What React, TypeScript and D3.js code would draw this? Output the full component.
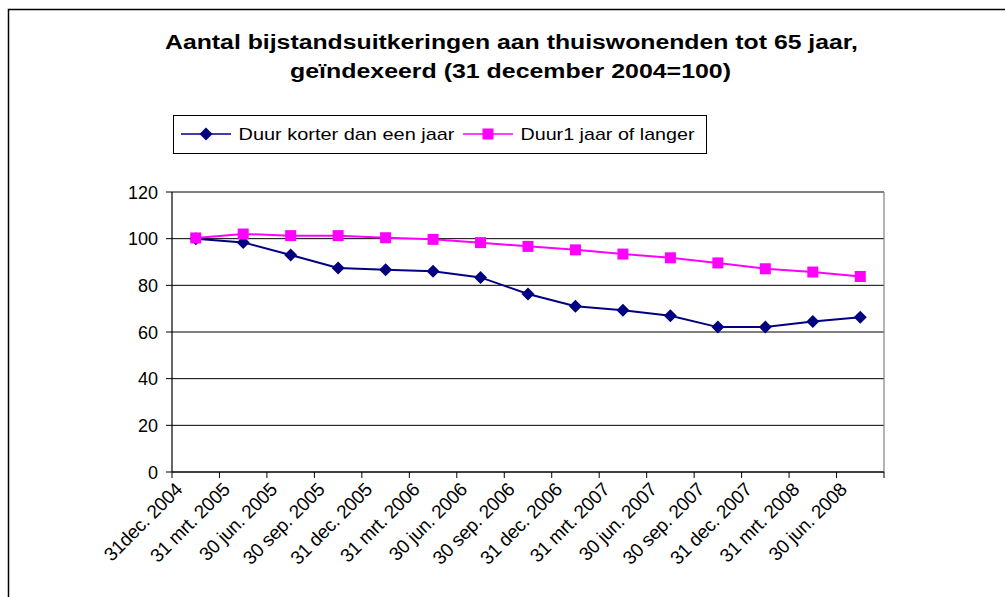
import React from "react";
import * as d3 from "d3";

const categories = [
  "31dec. 2004",
  "31 mrt. 2005",
  "30 jun. 2005",
  "30 sep. 2005",
  "31 dec. 2005",
  "31 mrt. 2006",
  "30 jun. 2006",
  "30 sep. 2006",
  "31 dec. 2006",
  "31 mrt. 2007",
  "30 jun. 2007",
  "30 sep. 2007",
  "31 dec. 2007",
  "31 mrt. 2008",
  "30 jun. 2008",
];
const korter = [100, 98.4, 93, 87.4, 86.7, 86, 83.4, 76.3, 71, 69.3, 67, 62.1, 62.1, 64.5, 66.3];
const langer = [100.3, 102, 101.3, 101.3, 100.4, 99.7, 98.3, 96.7, 95.2, 93.4, 91.8, 89.6, 87.1, 85.7, 83.8];
const yTicks = [0, 20, 40, 60, 80, 100, 120];

const series = [
  { name: "Duur korter dan een jaar", values: korter, color: "#000080", marker: "diamond" },
  { name: "Duur1 jaar of langer", values: langer, color: "#FF00FF", marker: "square" },
];

const width = 1005;
const height = 597;
const plot = { left: 172, right: 884, top: 192, bottom: 472 };
const font = "'Liberation Sans', Arial, sans-serif";

function Marker({ kind, x, y, color }: { kind: string; x: number; y: number; color: string }) {
  if (kind === "square") {
    return <rect x={x - 5.5} y={y - 5.5} width={11} height={11} fill={color} />;
  }
  const r = 6.5;
  return <path d={`M${x},${y - r}L${x + r},${y}L${x},${y + r}L${x - r},${y}Z`} fill={color} />;
}

export default function App() {
  const x = d3.scaleBand<string>().domain(categories).range([plot.left, plot.right]);
  const y = d3.scaleLinear().domain([0, 120]).range([plot.bottom, plot.top]);
  const cx = (c: string) => (x(c) as number) + x.bandwidth() / 2;
  const line = d3
    .line<number>()
    .x((_, i) => cx(categories[i]))
    .y((d) => y(d));

  const tickXs = [...categories.map((c) => x(c) as number), plot.right];
  // legend slots: line start, text start, text width
  const legendSlots = [
    { lx: 181, tx: 238.5, tw: 216 },
    { lx: 463, tx: 520.5, tw: 174 },
  ];

  return (
    <svg
      width={width}
      height={height}
      style={{ position: "absolute", left: 0, top: 0, background: "#fff", fontFamily: font }}
    >
      {/* outer frame */}
      <path d={`M8.5,${height}V9.5H${width}`} fill="none" stroke="#000" strokeWidth={1.5} />

      {/* title */}
      <text x={165} y={49} fontSize={20} fontWeight="bold" textLength={693} lengthAdjust="spacingAndGlyphs">
        Aantal bijstandsuitkeringen aan thuiswonenden tot 65 jaar,
      </text>
      <text x={290} y={78} fontSize={20} fontWeight="bold" textLength={441} lengthAdjust="spacingAndGlyphs">
        geïndexeerd (31 december 2004=100)
      </text>

      {/* legend */}
      <rect x={173.5} y={115.5} width={533} height={38} fill="#fff" stroke="#000" strokeWidth={1} />
      {series.map((s, i) => {
        const slot = legendSlots[i];
        const ly = 134;
        return (
          <g key={s.name}>
            <line x1={slot.lx} x2={slot.lx + 50} y1={ly} y2={ly} stroke={s.color} strokeWidth={1.5} />
            <Marker kind={s.marker} x={slot.lx + 25} y={ly} color={s.color} />
            <text
              x={slot.tx}
              y={ly + 6}
              fontSize={17}
              textLength={slot.tw}
              lengthAdjust="spacingAndGlyphs"
            >
              {s.name}
            </text>
          </g>
        );
      })}

      {/* gridlines */}
      {yTicks.map((t) => (
        <line key={t} x1={plot.left} x2={plot.right} y1={y(t)} y2={y(t)} stroke="#000" strokeWidth={1} />
      ))}
      <line x1={plot.right} x2={plot.right} y1={plot.top} y2={plot.bottom} stroke="#808080" strokeWidth={1.2} />

      {/* y axis */}
      <line x1={plot.left} x2={plot.left} y1={plot.top} y2={plot.bottom} stroke="#000" strokeWidth={1.2} />
      {yTicks.map((t) => (
        <g key={t}>
          <line x1={plot.left - 6} x2={plot.left} y1={y(t)} y2={y(t)} stroke="#000" />
          <text x={158} y={y(t) + 6.5} textAnchor="end" fontSize={18}>
            {t}
          </text>
        </g>
      ))}

      {/* x axis */}
      <line x1={plot.left} x2={plot.right} y1={plot.bottom} y2={plot.bottom} stroke="#000" strokeWidth={1.2} />
      {tickXs.map((tx, i) => (
        <line key={i} x1={tx} x2={tx} y1={plot.bottom} y2={plot.bottom + 6} stroke="#000" />
      ))}
      {categories.map((c) => (
        <text
          key={c}
          transform={`translate(${cx(c) - 17},${plot.bottom + 14}) rotate(-45)`}
          textAnchor="end"
          fontSize={19}
          letterSpacing={-0.3}
          dy="0.35em"
        >
          {c}
        </text>
      ))}

      {/* series */}
      {series.map((s) => (
        <g key={s.name}>
          <path d={line(s.values) as string} fill="none" stroke={s.color} strokeWidth={2} />
          {s.values.map((v, i) => (
            <Marker key={i} kind={s.marker} x={cx(categories[i])} y={y(v)} color={s.color} />
          ))}
        </g>
      ))}
    </svg>
  );
}
